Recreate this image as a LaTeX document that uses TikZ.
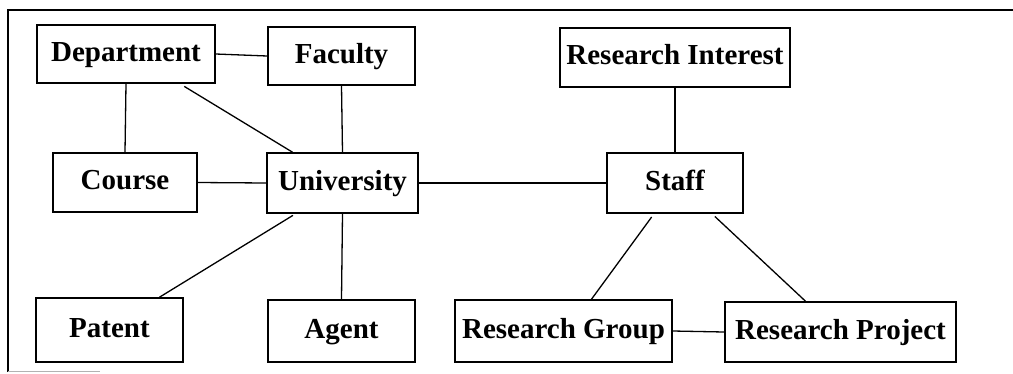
\documentclass[tikz,border=0pt]{standalone}
\usepackage{fontspec}
\setmainfont{Liberation Serif}
\usepackage{tikz}

\tikzset{
  box/.style={draw, line width=1.6pt, inner sep=0pt, align=center,
    text height=20pt, text depth=6pt,
    font=\fontsize{29}{32}\selectfont\bfseries},
  link/.style={line width=1.3pt}
}

\begin{document}
\begin{tikzpicture}[x=1pt,y=-1pt]
\useasboundingbox (0,0) rectangle (1013,373);
% Frame
\draw[line width=1.5pt] (8,372) -- (8,10) -- (1013,10);
\draw[line width=1pt, gray!60] (8,371) -- (100,371);
%LEFT
\node[box, minimum width=178pt, minimum height=58pt] (dept) at (126,54) {Department};
\node[box, minimum width=147pt, minimum height=58pt] (fac) at (341.5,56) {Faculty};
\node[box, minimum width=144pt, minimum height=59pt] (course) at (125,182.5) {Course};
\node[box, minimum width=151pt, minimum height=60pt] (uni) at (342.5,183) {University};
\node[box, minimum width=147pt, minimum height=64pt] (patent) at (109.5,330) {Patent};
\node[box, minimum width=147pt, minimum height=62pt] (agent) at (341.5,331) {Agent};
%RIGHT
\node[box, minimum width=230pt, minimum height=59pt] (resint) at (675,57.5) {Research Interest};
\node[box, minimum width=136pt, minimum height=60pt] (staff) at (675,183) {Staff};
\node[box, minimum width=217pt, minimum height=62pt] (resgroup) at (563.5,331) {Research Group};
\node[box, minimum width=231pt, minimum height=60pt] (resproj) at (840.5,332) {Research Project};
% Links
\draw[link] (dept.east) -- (fac.west);
\draw[link] (dept.south) -- (course.north);
\draw[link, shorten <=5pt] ([xshift=54pt]dept.south) -- ([xshift=-50pt]uni.north);
\draw[link] (fac.south) -- (uni.north);
\draw[link] (course.east) -- (uni.west);
\draw[link] (uni.east) -- (staff.west);
\draw[link, shorten <=3pt] ([xshift=-47pt]uni.south) -- ([xshift=50pt]patent.north);
\draw[link] (uni.south) -- (agent.north);
\draw[link] (resint.south) -- (staff.north);
\draw[link, shorten <=4pt] ([xshift=-21pt]staff.south) -- ([xshift=28pt]resgroup.north);
\draw[link, shorten <=4pt] ([xshift=37pt]staff.south) -- ([xshift=-35pt]resproj.north);
\draw[link] (resgroup.east) -- (resproj.west);
\end{tikzpicture}
\end{document}
